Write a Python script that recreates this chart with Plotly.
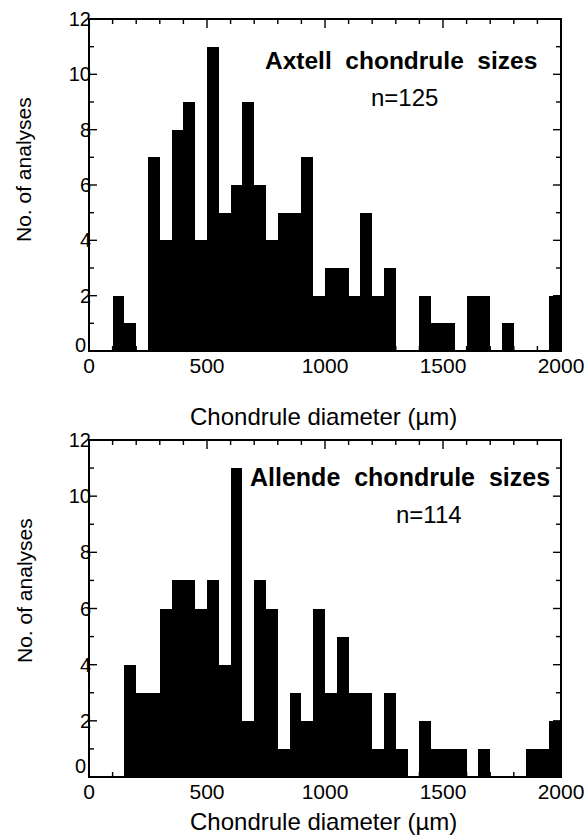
import plotly.graph_objects as go

# ---------------- data ----------------
bin_width = 50
bin_starts = list(range(0, 2000, 50))

axtell_counts = [0, 0, 2, 1, 0, 7, 4, 8, 9, 4,
                 11, 5, 6, 9, 6, 4, 5, 5, 7, 2,
                 3, 3, 2, 5, 2, 3, 0, 0, 2, 1,
                 1, 0, 2, 2, 0, 1, 0, 0, 0, 2]

allende_counts = [0, 0, 0, 4, 3, 3, 6, 7, 7, 6,
                  7, 4, 11, 2, 7, 6, 1, 3, 2, 6,
                  3, 5, 3, 3, 1, 3, 1, 0, 2, 1,
                  1, 1, 0, 1, 0, 0, 0, 1, 1, 2]

x_tickvals = [0, 500, 1000, 1500, 2000]
x_ticktext = ["0", "500", "1000", "1500", "2000"]
x_minor_ticks = [100, 200, 300, 400, 600, 700, 800, 900,
                 1100, 1200, 1300, 1400, 1600, 1700, 1800, 1900]
y_tickvals = [0, 2, 4, 6, 8, 10, 12]
y_ticktext = ["", "2", "4", "6", "8", "10", "12"]
y_minor_ticks = [1, 3, 5, 7, 9, 11]

titles = ["Axtell chondrule sizes", "Allende chondrule sizes"]
n_labels = ["n=125", "n=114"]
x_title = "Chondrule diameter (\u00b5m)"
y_title = "No. of analyses"

# ---------------- layout geometry (pixels) ----------------
W, H = 587, 835
ML, MR, MT, MB = 89, 26, 19, 58
PW = W - ML - MR
PH = H - MT - MB


def px(xp):
    return (xp - ML) / PW


def py(yp):
    return (H - MB - yp) / PH


top_dom = [py(351), 1.0]
bot_dom = [0.0, py(440)]

FONT = "Liberation Sans, Arial, Helvetica, sans-serif"

fig = go.Figure()
fig.add_trace(go.Bar(x=bin_starts, y=axtell_counts, width=bin_width, offset=0,
                     marker=dict(color="black", line=dict(width=0)),
                     showlegend=False, xaxis="x", yaxis="y"))
fig.add_trace(go.Bar(x=bin_starts, y=allende_counts, width=bin_width, offset=0,
                     marker=dict(color="black", line=dict(width=0)),
                     showlegend=False, xaxis="x2", yaxis="y2"))


def xaxis(anchor):
    return dict(
        anchor=anchor, domain=[0, 1], range=[0, 2000], automargin=False,
        tickmode="array", tickvals=x_tickvals, ticktext=x_ticktext,
        showline=False, ticks="", ticklabelstandoff=0,
        showgrid=False, zeroline=False, fixedrange=True,
        tickfont=dict(family=FONT, size=21, color="black"),
    )


def yaxis(anchor, dom):
    return dict(
        anchor=anchor, domain=dom, range=[0, 12], automargin=False,
        tickmode="array", tickvals=y_tickvals, ticktext=y_ticktext,
        showline=False, ticks="", ticklabelstandoff=-3,
        showgrid=False, zeroline=False, fixedrange=True,
        tickfont=dict(family=FONT, size=20, color="black"),
    )


annotations = []


def add_text(text, xp, yp, size, bold=False, xanchor="center", angle=0):
    annotations.append(dict(
        text=text, x=px(xp), y=py(yp), xref="paper", yref="paper",
        xanchor=xanchor, yanchor="middle", showarrow=False, textangle=angle,
        font=dict(family=FONT, size=size, color="black",
                  weight="bold" if bold else "normal"),
    ))


# panel titles and n labels
add_text(titles[0].replace(" ", "\u00a0 "), 401, 60, 24.5, bold=True)
add_text(n_labels[0], 404, 97, 24)
add_text(titles[1].replace(" ", "\u00a0 "), 400, 477, 25, bold=True)
add_text(n_labels[1], 429, 514, 24)

# axis titles
add_text(y_title, 24, 170, 21, angle=-90)
add_text(y_title, 24, 591, 21, angle=-90)
add_text(x_title, 323, 416, 24)
add_text(x_title, 323, 822, 24)

# the "0" y-tick labels, nudged upward as in the original
add_text("0", 88, 345, 20, xanchor="right")
add_text("0", 88, 766, 20, xanchor="right")

# ---------------- frame and inside ticks drawn as filled shapes ----------------
shapes = []
BLK = dict(fillcolor="black", line=dict(width=0), layer="above")


def frame(xr, yr):
    xd, yd = f"{xr} domain", f"{yr} domain"
    # bottom and top edges
    for ya in (0, 1):
        shapes.append(dict(type="rect", xref=xd, yref=yd,
                           xsizemode="pixel", xanchor=0, x0=-1, x1=PW + 1,
                           ysizemode="pixel", yanchor=ya, y0=-1, y1=1, **BLK))
    # left and right edges
    for xa in (0, 1):
        shapes.append(dict(type="rect", xref=xd, yref=yd,
                           xsizemode="pixel", xanchor=xa, x0=-1, x1=1,
                           y0=0, y1=1, **BLK))


def xticks(xr, yr, vals, length):
    yd = f"{yr} domain"
    for v in vals:
        for ya, (a, b) in ((0, (0, length)), (1, (-length, 0))):
            shapes.append(dict(type="rect", xref=xr, yref=yd,
                               xsizemode="pixel", xanchor=v, x0=-0.7, x1=0.7,
                               ysizemode="pixel", yanchor=ya, y0=a, y1=b, **BLK))


def yticks(xr, yr, vals, length):
    xd = f"{xr} domain"
    for v in vals:
        for xa, (a, b) in ((0, (0, length)), (1, (-length, 0))):
            shapes.append(dict(type="rect", xref=xd, yref=yr,
                               xsizemode="pixel", xanchor=xa, x0=a, x1=b,
                               ysizemode="pixel", yanchor=v, y0=-0.7, y1=0.7, **BLK))


for xr, yr in (("x", "y"), ("x2", "y2")):
    frame(xr, yr)
    xticks(xr, yr, x_tickvals[1:-1], 9)
    xticks(xr, yr, x_minor_ticks, 5)
    yticks(xr, yr, y_tickvals[1:-1], 8)
    yticks(xr, yr, y_minor_ticks, 5)

fig.update_layout(
    template="none",
    width=W, height=H,
    margin=dict(l=ML, r=MR, t=MT, b=MB, pad=0, autoexpand=False),
    paper_bgcolor="white", plot_bgcolor="white",
    bargap=0, showlegend=False,
    xaxis=xaxis("y"), yaxis=yaxis("x", top_dom),
    xaxis2=xaxis("y2"), yaxis2=yaxis("x2", bot_dom),
    annotations=annotations, shapes=shapes,
    font=dict(family=FONT, color="black"),
)

fig.write_html("out.html")
